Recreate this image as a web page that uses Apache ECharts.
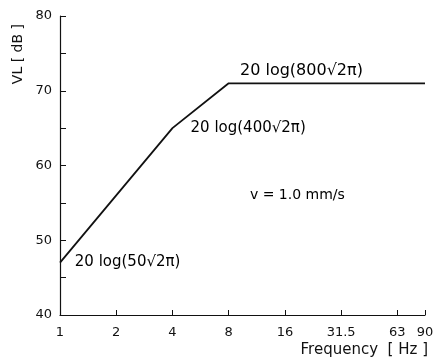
<!DOCTYPE html>
<html>
<head>
<meta charset="utf-8">
<script src="https://cdn.jsdelivr.net/npm/echarts@6/dist/echarts.min.js"></script>
<style>
  html, body { margin: 0; padding: 0; background: #fff; }
  #chart { width: 437px; height: 359px; }
</style>
</head>
<body>
<div id="chart"></div>
<script>
// frequency breakpoints (Hz) and level (dB)
const freqs = [1, 4, 8, 90];
const levels = [47, 65, 71, 71];
// tick label text shown for nominal octave ticks
const tickLabels = { 32: '31.5', 64: '63' };
// annotations: [freq, level, text]
const notes = [
  [9.2, 72.6, '20 log(800√2π)'],
  [5.0, 65.0, '20 log(400√2π)'],
  [1.2, 47.1, '20 log(50√2π)'],
  [10.4, 56.0, 'v = 1.0 mm/s']
];
const noteSizes = [16, 15, 15, 14];

const ink = '#111';
const font = 'DejaVu Sans';

const chart = echarts.init(document.getElementById('chart'));
chart.setOption({
  animation: false,
  backgroundColor: '#fff',
  grid: { left: 60, right: 12, top: 16, bottom: 44 },
  xAxis: {
    type: 'log',
    logBase: 2,
    min: 1,
    max: 90,
    axisLine: { lineStyle: { color: ink, width: 1.2 } },
    axisTick: { inside: true, length: 5, lineStyle: { color: ink } },
    splitLine: { show: false },
    axisLabel: {
      color: ink, fontSize: 13, fontFamily: font, margin: 11,
      formatter: v => tickLabels[Math.round(v)] || String(Math.round(v))
    }
  },
  yAxis: {
    type: 'value',
    min: 40,
    max: 80,
    interval: 10,
    axisLine: { show: true, lineStyle: { color: ink, width: 1.2 } },
    axisTick: { show: true, inside: true, length: 6, lineStyle: { color: ink } },
    minorTick: { show: true, splitNumber: 2, length: 6, lineStyle: { color: ink } },
    splitLine: { show: false },
    axisLabel: { color: ink, fontSize: 13, fontFamily: font, margin: 8 }
  },
  graphic: [
    {
      type: 'text', left: 11, top: 24, rotation: Math.PI / 2,
      style: { text: 'VL [ dB ]', fill: ink, font: '14px "DejaVu Sans"' }
    },
    {
      type: 'text', right: 9, top: 343,
      style: { text: 'Frequency  [ Hz ]', fill: ink, font: '15px "DejaVu Sans"' }
    }
  ],
  series: [
    {
      type: 'line',
      data: freqs.map((f, i) => [f, levels[i]]),
      symbol: 'none',
      lineStyle: { color: ink, width: 1.8 }
    },
    {
      type: 'scatter',
      symbolSize: 0,
      silent: true,
      itemStyle: { color: ink, opacity: 1 },
      data: notes.map((n, i) => ({
        value: [n[0], n[1]], name: n[2],
        label: { fontSize: noteSizes[i], color: '#000' }
      })),
      label: {
        show: true, position: 'right', distance: 0,
        formatter: p => p.name,
        color: '#000', opacity: 1, fontFamily: font
      }
    }
  ]
});
</script>
</body>
</html>
